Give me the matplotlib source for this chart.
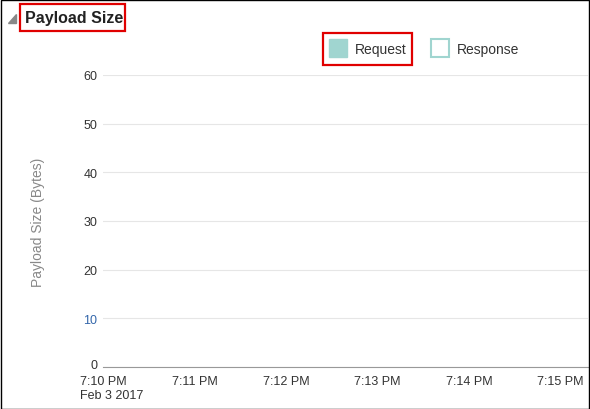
import matplotlib.pyplot as plt
import matplotlib.transforms as mt
from matplotlib.patches import Rectangle

# chart has no data points, only the axes
minutes = [0, 1, 2, 3, 4, 5]
time_labels = ['7:10 PM\nFeb 3 2017', '7:11 PM', '7:12 PM', '7:13 PM', '7:14 PM', '7:15 PM']
y_ticks = [0, 10, 20, 30, 40, 50, 60]
request_values = []
response_values = []

W, H = 590, 410
fig = plt.figure(figsize=(W / 100, H / 100), dpi=100)
plt.rcParams['font.family'] = ['Liberation Sans', 'DejaVu Sans']

ax = fig.add_axes([103 / W, 1 - 368 / H, 485 / W, (368 - 76) / H])
ax.plot(request_values, request_values)
ax.set_xlim(0, 5.3)
ax.set_ylim(0, 60)
ax.set_yticks(y_ticks)
ax.set_xticks(minutes)
ax.set_xticklabels(time_labels, fontsize=9, color='#333333')
ax.tick_params(axis='both', length=0, labelsize=9, labelcolor='#333333', pad=4)
ax.tick_params(axis='x', pad=6)
ax.get_yticklabels()[1].set_color('#3366aa')
# lift the "0" label a bit so it clears the date label
t0 = ax.get_yticklabels()[0]
t0.set_transform(t0.get_transform() + mt.ScaledTranslation(0, 3 / 100, fig.dpi_scale_trans))
ax.grid(axis='y', color='#e6e6e6', lw=0.8)
for s in ['top', 'right', 'left']:
    ax.spines[s].set_visible(False)
ax.spines['bottom'].set_color('#999999')
ax.set_ylabel('Payload Size (Bytes)', fontsize=10, color='#888888', labelpad=28)

# first label starts at the left like original
first = ax.get_xticklabels()[0]
first.set_ha('left')
first.set_transform(first.get_transform() + mt.ScaledTranslation(-23 / 100, 0, fig.dpi_scale_trans))

def px(x, y):
    return x / W, 1 - y / H

# outer frame
fig.patches.append(Rectangle((0.5 / W, 0.5 / H), 1 - 1.5 / W, 1 - 1.5 / H, transform=fig.transFigure,
                             fill=False, ec='black', lw=1))
# collapse triangle
fig.patches.append(plt.Polygon([px(8, 24), px(16, 24), px(16, 15)], closed=True, transform=fig.transFigure,
                               color='#888888'))
fig.text(*px(25, 18), 'Payload Size', fontsize=11.5, fontweight='bold', va='center', color='#222222')
fig.patches.append(Rectangle(px(20, 32), 105 / W, 27 / H, transform=fig.transFigure, fill=False, ec='#e00000', lw=1.6))

# legend
fig.patches.append(Rectangle(px(329, 58), 18 / W, 18 / H, transform=fig.transFigure, color='#a0d5d0'))
fig.text(*px(355, 50), 'Request', fontsize=10, va='center', color='#333333')
fig.patches.append(Rectangle(px(323, 66), 89 / W, 32 / H, transform=fig.transFigure, fill=False, ec='#e00000', lw=1.6))
fig.patches.append(Rectangle(px(431, 58), 18 / W, 18 / H, transform=fig.transFigure, fill=False, ec='#a0d5d0', lw=1.5))
fig.text(*px(457, 50), 'Response', fontsize=10, va='center', color='#333333')

fig.savefig('out.png', dpi=100)
